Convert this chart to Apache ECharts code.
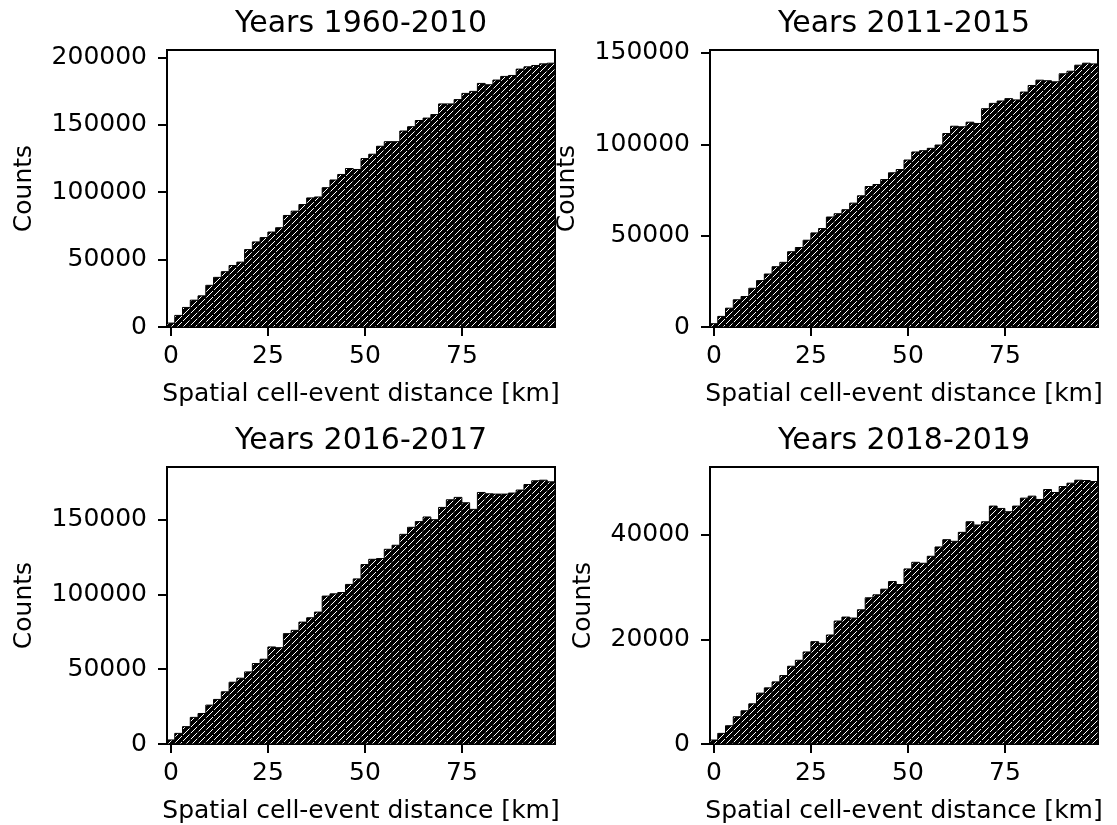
<!DOCTYPE html>
<html>
<head>
<meta charset="utf-8">
<script src="https://cdn.jsdelivr.net/npm/echarts@6.0.0/dist/echarts.min.js"></script>
<style>
  html, body { margin: 0; padding: 0; background: #fff; }
  #main { width: 1117px; height: 825px; }
</style>
</head>
<body>
<div id="main"></div>
<script>
// Bin centres (km), width 2 km
const distance = [0, 2, 4, 6, 8, 10, 12, 14, 16, 18, 20, 22, 24, 26, 28, 30, 32, 34, 36, 38,
  40, 42, 44, 46, 48, 50, 52, 54, 56, 58, 60, 62, 64, 66, 68, 70, 72, 74, 76, 78,
  80, 82, 84, 86, 88, 90, 92, 94, 96, 98];
const binWidth = 2;

const counts1960 = [2900, 8600, 14500, 19900, 23100, 30900, 36800, 41000, 45600, 48100,
  57400, 63100, 66300, 70400, 73600, 82700, 85900, 90800, 95700, 96400,
  103300, 109000, 113100, 117500, 116800, 124900, 128100, 134000, 137400, 137400,
  145300, 148500, 153100, 154900, 157500, 165400, 165400, 168600, 173200, 174700,
  180600, 179600, 183100, 185800, 186500, 191200, 192900, 193900, 195100, 195600];
const counts2011 = [1800, 5800, 10300, 14900, 16700, 21200, 25400, 29000, 33000, 35400,
  41200, 43500, 47500, 51500, 53900, 60200, 62000, 64200, 67800, 71800,
  76900, 78000, 80700, 84400, 86200, 91400, 95800, 96500, 97800, 99600,
  105900, 109900, 109600, 112100, 111400, 119500, 122400, 123700, 125000, 124300,
  128600, 132200, 135100, 134800, 134200, 138600, 140000, 143300, 144400, 144000];
const counts2016 = [2700, 7100, 11600, 17800, 20400, 26000, 29800, 34900, 41300, 44000,
  48200, 53800, 56700, 64900, 64400, 73800, 76000, 81500, 84400, 88200,
  98900, 100400, 101300, 106700, 110400, 120000, 123500, 124000, 130200, 132900,
  140200, 144900, 148700, 151800, 150000, 158200, 163300, 164900, 161300, 156900,
  168200, 167300, 167100, 167100, 167800, 169800, 173500, 176000, 176400, 175300];
const counts2018 = [760, 2030, 3490, 5210, 6350, 7680, 9720, 10730, 11870, 13080,
  14860, 16000, 17590, 19560, 19240, 20830, 23500, 24260, 24070, 25650,
  27940, 28510, 29590, 31050, 30480, 33460, 34730, 34540, 35880, 37660,
  39050, 38740, 40450, 42480, 41850, 42480, 45470, 45020, 44390, 45470,
  46990, 47370, 46740, 48640, 48070, 49210, 49850, 50420, 50360, 50170];

const titles = ['Years 1960-2010', 'Years 2011-2015', 'Years 2016-2017', 'Years 2018-2019'];
const xTicks = [0, 25, 50, 75];
const yTicks1960 = [0, 50000, 100000, 150000, 200000];
const yTicks2011 = [0, 50000, 100000, 150000];
const yTicks2016 = [0, 50000, 100000, 150000];
const yTicks2018 = [0, 20000, 40000];

const allCounts = [counts1960, counts2011, counts2016, counts2018];
const allYTicks = [yTicks1960, yTicks2011, yTicks2016, yTicks2018];

// =====================================================================================================================
// hatch pattern : black face, thin white diagonals
const hatch = document.createElement('canvas');
hatch.width = 6;
hatch.height = 6;
(function () {
  const ctx = hatch.getContext('2d');
  ctx.fillStyle = '#000';
  ctx.fillRect(0, 0, 6, 6);
  ctx.strokeStyle = '#fff';
  ctx.lineWidth = 1;
  ctx.beginPath();
  ctx.moveTo(0, 6); ctx.lineTo(6, 0);
  ctx.moveTo(-1, 1); ctx.lineTo(1, -1);
  ctx.moveTo(5, 7); ctx.lineTo(7, 5);
  ctx.stroke();
})();
const hatchFill = {image: hatch, repeat: 'repeat'};

const font = 'DejaVu Sans';
const grids = [
  {left: 167, top: 50, width: 388, height: 277},
  {left: 710, top: 50, width: 388, height: 277},
  {left: 167, top: 467, width: 388, height: 277},
  {left: 710, top: 467, width: 388, height: 277}
];
const yNameGap = [130, 130, 130, 114];

function renderBar(params, api) {
  const x = api.value(0);
  const y = api.value(1);
  const p0 = api.coord([x - binWidth / 2, 0]);
  const p1 = api.coord([x + binWidth / 2, y]);
  return {
    type: 'rect',
    shape: {x: p0[0], y: p1[1], width: p1[0] - p0[0], height: p0[1] - p1[1]},
    style: {fill: hatchFill, stroke: '#000', lineWidth: 1}
  };
}

let option = {
  animation: false,
  backgroundColor: '#fff',
  grid: [],
  xAxis: [],
  yAxis: [],
  series: [],
  graphic: []
};

for (let i = 0; i < 4; i++) {
  const g = grids[i];
  option.grid.push({
    left: g.left, top: g.top, width: g.width, height: g.height,
    show: true, borderColor: '#000', borderWidth: 2, backgroundColor: 'transparent',
    outerBoundsMode: 'none'
  });
  option.xAxis.push({
    type: 'value',
    gridIndex: i,
    min: -1,
    max: 99,
    name: 'Spatial cell-event distance [km]',
    nameLocation: 'middle',
    nameGap: 55,
    nameTextStyle: {fontFamily: font, fontSize: 25, color: '#000'},
    axisLine: {show: true, onZero: false, lineStyle: {color: '#000', width: 2}},
    axisTick: {show: true, length: 9, lineStyle: {color: '#000', width: 2}, customValues: xTicks},
    axisLabel: {fontFamily: font, fontSize: 25, color: '#000', margin: 17, customValues: xTicks},
    splitLine: {show: false}
  });
  option.yAxis.push({
    type: 'value',
    gridIndex: i,
    min: 0,
    max: function (v) { return v.max * 1.05; },
    name: 'Counts',
    nameLocation: 'middle',
    nameGap: yNameGap[i],
    nameTextStyle: {fontFamily: font, fontSize: 25, color: '#000'},
    axisLine: {show: true, onZero: false, lineStyle: {color: '#000', width: 2}},
    axisTick: {show: true, length: 9, lineStyle: {color: '#000', width: 2}, customValues: allYTicks[i]},
    axisLabel: {
      fontFamily: font, fontSize: 25, color: '#000', margin: 20,
      customValues: allYTicks[i],
      formatter: function (v) { return String(v); }
    },
    splitLine: {show: false}
  });
  option.series.push({
    type: 'custom',
    xAxisIndex: i,
    yAxisIndex: i,
    renderItem: renderBar,
    encode: {x: 0, y: 1},
    data: distance.map(function (d, k) { return [d, allCounts[i][k]]; })
  });
  option.graphic.push({
    type: 'text',
    x: g.left + g.width / 2,
    y: g.top - 26,
    style: {
      text: titles[i],
      fontFamily: font,
      fontSize: 30,
      fill: '#000',
      align: 'center',
      verticalAlign: 'middle'
    }
  });
}

const chart = echarts.init(document.getElementById('main'));
chart.setOption(option);
</script>
</body>
</html>
